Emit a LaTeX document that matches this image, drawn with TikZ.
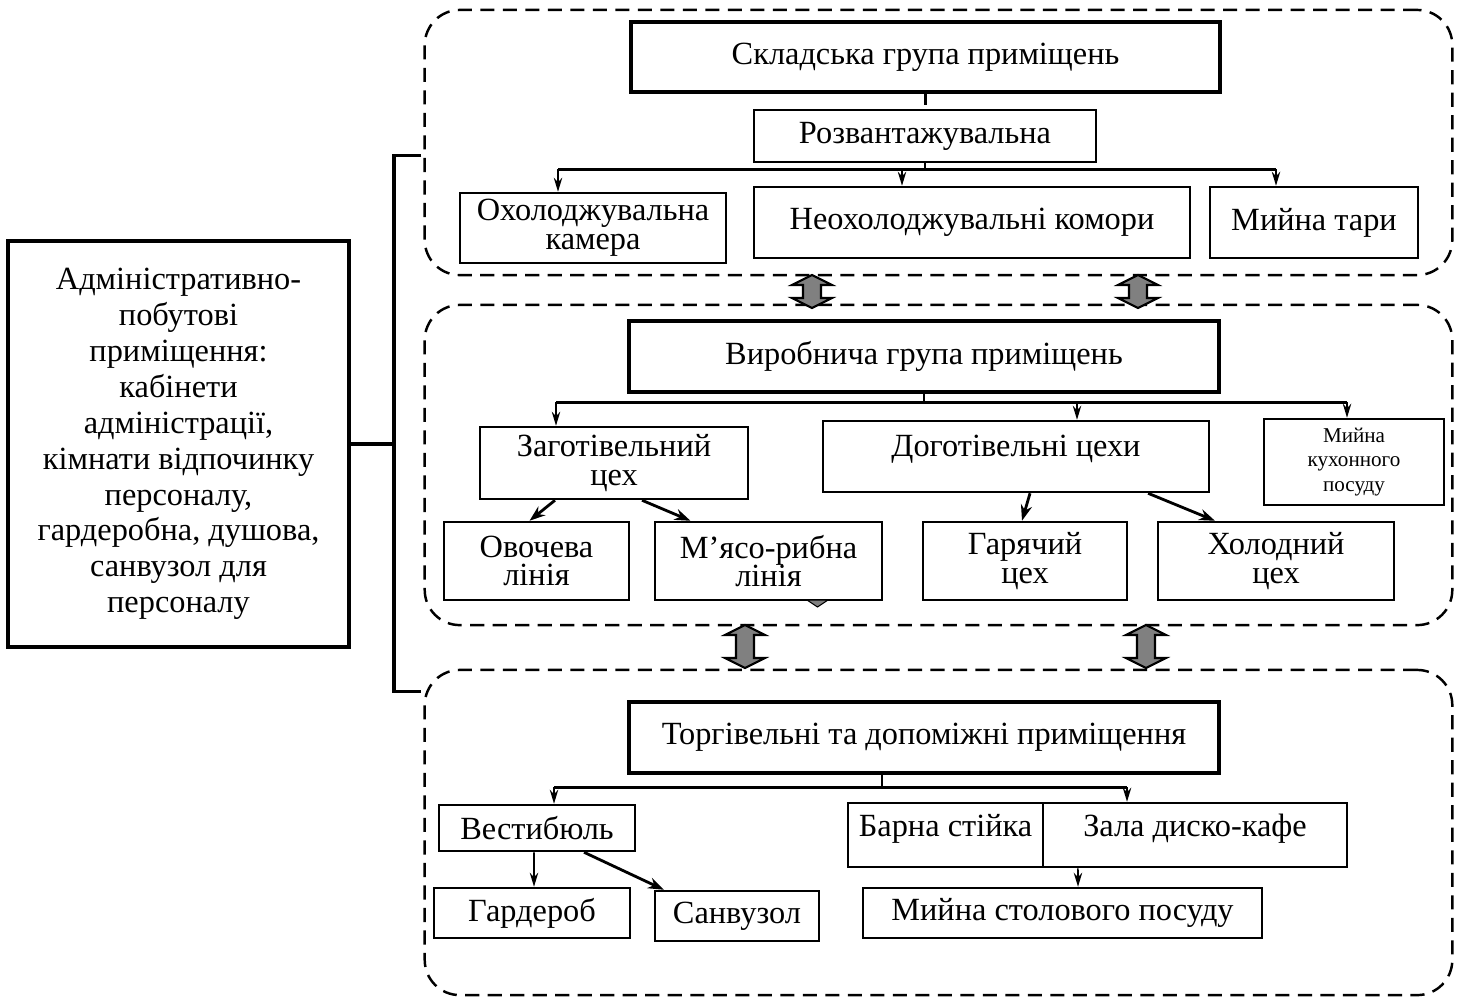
\documentclass[tikz,border=0pt]{standalone}
\usepackage{fontspec}
\setmainfont{Liberation Serif}
\usetikzlibrary{positioning, arrows.meta, calc}

\begin{document}
\begin{tikzpicture}[
  x=0.01cm, y=-0.01cm,
  box/.style={rectangle, draw=black, fill=white, line width=0.7pt, inner sep=1pt, align=center, font=\fontsize{9.2}{8.2}\selectfont},
  headbox/.style={box, line width=1.2pt},
  group/.style={rectangle, draw=black, rounded corners=10pt, line width=0.7pt, dash pattern=on 4pt off 2.4pt},
  bar/.style={line width=0.8pt},
  thickline/.style={line width=1pt},
  arrow/.style={-{Stealth[length=4pt, width=2.4pt]}, line width=0.45pt},
  darrow/.style={-{Stealth[length=4.5pt, width=3.2pt]}, line width=0.8pt},
  link/.style={draw=black, fill=gray, line width=0.6pt, line join=miter},
  pics/twoway/.style={code={
    \filldraw[link] (0,0) -- ++(20,10) -- ++(-11,0) -- ++(0,#1) -- ++(11,0) -- ++(-20,10)
      -- ++(-20,-10) -- ++(11,0) -- ++(0,-#1) -- ++(-11,0) -- cycle;
  }}
]
\useasboundingbox (0,0) rectangle (1461,999);

% Groups
\node[group, minimum width=10.27cm, minimum height=2.65cm] (grpsklad) at (938.5,142.5) {};
\node[group, minimum width=10.27cm, minimum height=3.20cm] (grpvyrob) at (938.5,465) {};
\node[group, minimum width=10.27cm, minimum height=3.25cm] (grptorg) at (938.5,832.5) {};

% Left: admin rooms
\node[headbox, minimum width=3.41cm, minimum height=4.06cm, font=\fontsize{9.2}{10.2}\selectfont] (adm) at (178.5,444) {Адміністративно-\\побутові\\приміщення:\\кабінети\\адміністрації,\\кімнати відпочинку\\персоналу,\\гардеробна, душова,\\санвузол для\\персоналу};

% Row 1: storage
\node[headbox, minimum width=5.89cm, minimum height=0.70cm] (sklad) at (925.5,57) {Складська група приміщень};
\node[box, minimum width=3.42cm, minimum height=0.52cm] (rozv) at (925,136) {Розвантажувальна};
\node[box, minimum width=2.66cm, minimum height=0.70cm] (okhol) at (593,228) {Охолоджувальна\\камера};
\node[box, minimum width=4.36cm, minimum height=0.71cm] (neokhol) at (972,222.5) {Неохолоджувальні комори};
\node[box, minimum width=2.08cm, minimum height=0.71cm] (myinatary) at (1314,222.5) {Мийна тари};

% Row 2: production
\node[headbox, minimum width=5.90cm, minimum height=0.71cm] (vyrob) at (924,356.5) {Виробнича група приміщень};
\node[box, minimum width=2.68cm, minimum height=0.72cm] (zagot) at (614,463) {Заготівельний\\цех};
\node[box, minimum width=3.86cm, minimum height=0.71cm, text depth=0.22cm] (dogot) at (1016,456.5) {Доготівельні цехи};
\node[box, minimum width=1.80cm, minimum height=0.86cm, font=\fontsize{6}{7}\selectfont] (myinakukh) at (1354,462) {Мийна\\кухонного\\посуду};
\node[box, minimum width=1.85cm, minimum height=0.78cm] (ovocheva) at (536.5,561) {Овочева\\лінія};
\node[box, minimum width=2.27cm, minimum height=0.78cm] (myaso) at (768.5,561) {М’ясо-рибна\\лінія};
\node[box, minimum width=2.04cm, minimum height=0.78cm] (garyachyi) at (1025,561) {Гарячий\\цех};
\node[box, minimum width=2.36cm, minimum height=0.78cm] (kholodnyi) at (1276,561) {Холодний\\цех};

% Row 3: trade
\node[headbox, minimum width=5.90cm, minimum height=0.71cm] (torg) at (924,737.5) {Торгівельні та допоміжні приміщення};
\node[box, minimum width=1.96cm, minimum height=0.46cm] (vestyb) at (537,828) {Вестибюль};
\node[box, minimum width=1.95cm, minimum height=0.64cm, text depth=0.2cm] (barna) at (945.5,835) {Барна стійка};
\node[box, minimum width=3.04cm, minimum height=0.64cm, text depth=0.2cm] (zala) at (1195,835) {Зала диско-кафе};
\node[box, minimum width=1.96cm, minimum height=0.50cm] (garderob) at (532,913) {Гардероб};
\node[box, minimum width=1.64cm, minimum height=0.50cm] (sanvuzol) at (737,916) {Санвузол};
\node[box, minimum width=3.99cm, minimum height=0.50cm] (myinastol) at (1062.5,913) {Мийна столового посуду};

% Links between groups
\coordinate (lnk1) at (812,275);
\coordinate (lnk2) at (1138,275);
\coordinate (lnk3) at (745,625);
\coordinate (lnk4) at (1146,625);
\pic at (lnk1) {twoway=13};
\pic at (lnk2) {twoway=13};
\pic at (lnk3) {twoway=23};
\pic at (lnk4) {twoway=23};
\filldraw[link, line width=0.3pt] (807,600) -- (828,600) -- (817.5,607) -- cycle;

% Bracket to admin rooms
\draw[thickline] (adm.east) -- ++(43,0) coordinate (brk);
\draw[thickline] ($(grpsklad.north west)+(-2,147)$) -| (brk) |- ($(grptorg.north west)+(-2,23)$);

% Storage tree
\draw[line width=0.6pt] (sklad.south) -- ++(0,11);
\draw[bar] (rozv.south) -- ++(0,6) coordinate (rz);
\coordinate (s1) at ($(okhol.north)+(-35,0)$);
\coordinate (s2) at ($(neokhol.north)+(-70,0)$);
\coordinate (s3) at ($(myinatary.north)+(-38,0)$);
\draw[bar] (s1 |- rz) -- (s3 |- rz);
\draw[arrow] (s1 |- rz) -- (s1);
\draw[arrow] (s2 |- rz) -- (s2);
\draw[arrow] (s3 |- rz) -- (s3);

% Production tree
\draw[bar] (vyrob.south) -- ++(0,8) coordinate (vz);
\coordinate (p1) at ($(zagot.north)+(-58,0)$);
\coordinate (p2) at ($(dogot.north)+(61,0)$);
\coordinate (p3) at ($(myinakukh.north)+(-7,0)$);
\draw[bar] (p1 |- vz) -- (p3 |- vz);
\draw[arrow] (p1 |- vz) -- (p1);
\draw[arrow] (p2 |- vz) -- (p2);
\draw[arrow] (p3 |- vz) -- (p3);
\draw[darrow] ([xshift=-0.59cm]zagot.south) -- ([xshift=-0.07cm]ovocheva.north);
\draw[darrow] ([xshift=0.28cm]zagot.south) -- ([xshift=-0.78cm]myaso.north);
\draw[darrow] ([xshift=0.14cm]dogot.south) -- ([xshift=-0.03cm]garyachyi.north);
\draw[darrow] ([xshift=1.32cm]dogot.south) -- ([xshift=-0.61cm]kholodnyi.north);

% Trade tree
\draw[bar] ([xshift=-0.42cm]torg.south) -- ++(0,12) coordinate (tz);
\coordinate (t1) at ($(vestyb.north)+(17,0)$);
\coordinate (t2) at ($(zala.north)+(-68,0)$);
\draw[bar] (t1 |- tz) -- (t2 |- tz);
\draw[arrow] (t1 |- tz) -- (t1);
\draw[arrow] (t2 |- tz) -- (t2);
\draw[arrow] ([xshift=-0.03cm]vestyb.south) -- ([xshift=0.02cm]garderob.north);
\draw[darrow] ([xshift=0.47cm]vestyb.south) -- ([xshift=-0.73cm]sanvuzol.north);
\draw[arrow] ([xshift=-1.17cm]zala.south) -- ([xshift=0.155cm]myinastol.north);

\end{tikzpicture}
\end{document}
